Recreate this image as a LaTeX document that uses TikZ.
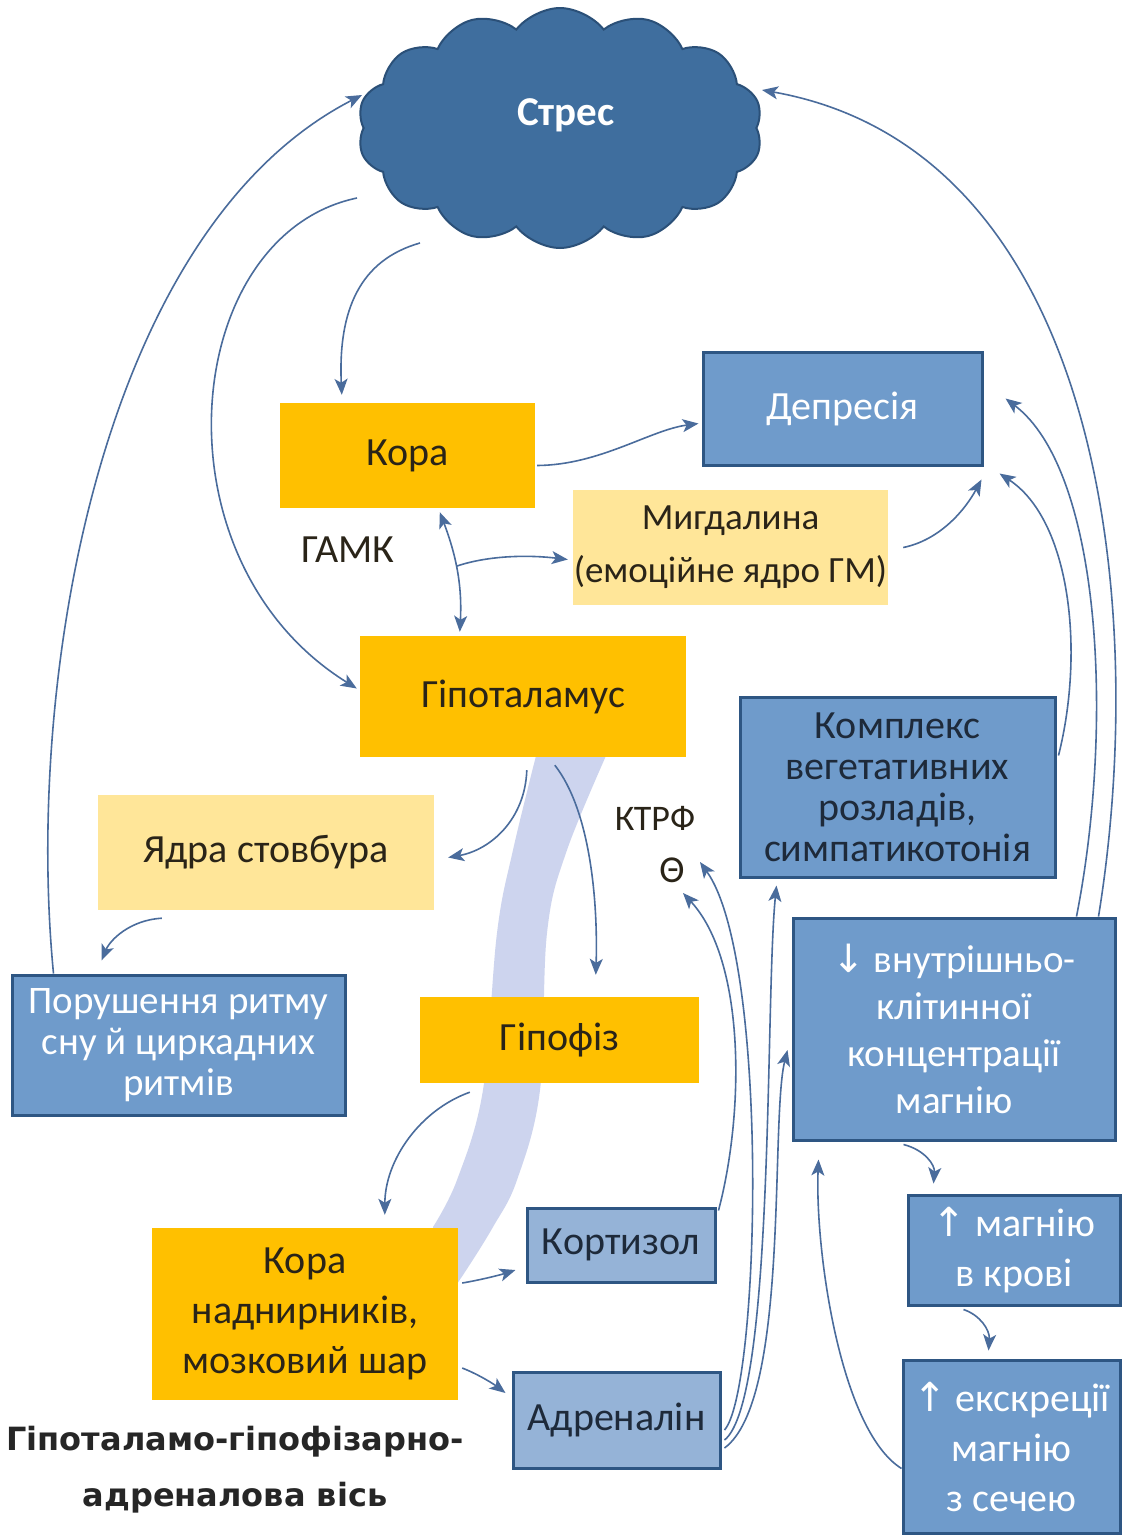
\documentclass[tikz,border=0pt]{standalone}
\usepackage{fontspec}
\setmainfont{Carlito}
\newfontfamily\titlefont{DejaVu Sans}
\newfontfamily\symfont{DejaVu Sans}
\usetikzlibrary{arrows.meta,shapes.symbols,calc}

\definecolor{orangefill}{HTML}{FFC000}
\definecolor{palefill}{HTML}{FFE699}
\definecolor{bluefill}{HTML}{6F9BCB}
\definecolor{lightbluefill}{HTML}{95B3D7}
\definecolor{boxborder}{HTML}{2E5683}
\definecolor{cloudfill}{HTML}{3F6E9E}
\definecolor{cloudborder}{HTML}{2B5078}
\definecolor{linkcol}{HTML}{4A6C9C}
\definecolor{bandcol}{HTML}{CDD4EE}
\definecolor{darktext}{HTML}{1E2A3A}
\definecolor{inktext}{HTML}{2A2418}

\tikzset{
  box/.style={rectangle, inner sep=0pt, align=center, font=\fontsize{40}{46}\selectfont},
  orangebox/.style={box, fill=orangefill, text=inktext},
  palebox/.style={box, fill=palefill, text=inktext},
  bluebox/.style={box, fill=bluefill, draw=boxborder, line width=3pt, text=white},
  darkbluebox/.style={box, fill=bluefill, draw=boxborder, line width=3pt, text=darktext},
  lightbox/.style={box, fill=lightbluefill, draw=boxborder, line width=3pt, text=darktext},
  tip/.tip={Stealth[length=16pt,width=13pt,inset=4pt]},
  link/.style={draw=linkcol, line width=1.6pt, -tip},
  biglabel/.style={font=\fontsize{40}{46}\selectfont, text=inktext, inner sep=0pt},
}

\begin{document}
\begin{tikzpicture}[x=1pt,y=-1pt]
\useasboundingbox[fill=white] (0,0) rectangle (1126,1535);

% axis band behind the hormonal cascade
\fill[bandcol] plot[smooth, tension=0.6] coordinates {(613,740) (567,850) (547,933) (540,1090) (517,1180) (493,1227) (463,1275) (445,1300)}
  -- plot[smooth, tension=0.6] coordinates {(433,1227) (457,1180) (483,1090) (497,933) (513,850) (540,740)} -- cycle;

% stress cloud
\node[cloud, cloud puffs=14, cloud puff arc=105, aspect=1.7, fill=cloudfill, draw=cloudborder,
      line width=2pt, minimum width=405pt, minimum height=240pt, inner sep=0pt] (stress) at (560,128) {};
\node[font=\fontsize{41}{46}\selectfont\bfseries, text=white] (stresstext) at (566,115) {Стрес};

% boxes
\node[orangebox, minimum width=255pt, minimum height=105pt] (kora) at (407.5,455.5) {Кора};
\node[bluebox, minimum width=279pt, minimum height=113pt] (depr) at (842.5,408.5) {Депресія};
\node[palebox, minimum width=315pt, minimum height=115pt, font=\fontsize{37}{53}\selectfont] (mygd) at (730.5,547.5) {Мигдалина\\(емоційне ядро ГМ)};
\node[orangebox, minimum width=326pt, minimum height=121pt] (hypo) at (523,696.5) {Гіпоталамус};
\node[darkbluebox, minimum width=315pt, minimum height=180pt, font=\fontsize{40}{41}\selectfont] (kompl) at (897.5,787) {Комплекс\\вегетативних\\розладів,\\симпатикотонія};
\node[palebox, minimum width=336pt, minimum height=115pt] (yadra) at (266,852.5) {Ядра стовбура};
\node[bluebox, minimum width=333pt, minimum height=140pt, font=\fontsize{39}{41}\selectfont] (porush) at (178.5,1045) {Порушення ритму\\сну й циркадних\\ритмів};
\node[orangebox, minimum width=279pt, minimum height=86pt] (gipof) at (559.5,1040) {Гіпофіз};
\node[bluebox, minimum width=322pt, minimum height=222pt, font=\fontsize{39}{47}\selectfont] (mgdown) at (954,1029) {{\symfont ↓} внутрішньо-\\клітинної\\концентрації\\магнію};
\node[orangebox, minimum width=306pt, minimum height=172pt, font=\fontsize{40}{50}\selectfont] (nadn) at (305,1314) {Кора\\наднирників,\\мозковий шар};
\node[lightbox, minimum width=188pt, minimum height=74pt] (kort) at (621,1245) {Кортизол};
\node[lightbox, minimum width=207pt, minimum height=96pt] (adren) at (616.5,1420) {Адреналін};
\node[bluebox, minimum width=212pt, minimum height=110pt, font=\fontsize{40}{50}\selectfont] (mgblood) at (1014,1250) {{\symfont ↑} магнію\\в крові};
\node[bluebox, minimum width=217pt, minimum height=173pt, font=\fontsize{40}{50}\selectfont] (excr) at (1011.5,1446.5) {{\symfont ↑} екскреції\\магнію\\з сечею};

% free labels
\node[biglabel] (gamk) at (348,550) {ГАМК};
\node[biglabel, font=\fontsize{36}{42}\selectfont] (ktrf) at (655,818) {КТРФ};
\node[biglabel, font=\fontsize{38}{42}\selectfont] (minus) at (672,870) {Θ};
\node[font=\titlefont\bfseries\fontsize{32}{56}\selectfont, text=black!85, align=center, inner sep=0pt] (axis) at (235,1470) {Гіпоталамо-гіпофізарно-\\адреналова вісь};

% connectors from the stress cloud
\draw[link] ($(stress.center)+(-140,115)$) .. controls (360,260) and (338,310) .. ($(kora.north west)+(62,-8)$);
\draw[link] ($(stress.center)+(-203,70)$) .. controls (180,235) and (150,560) .. ($(hypo.west)+(-3,-8)$);

% feedback to the stress cloud
\draw[link] ($(porush.north west)+(43,0)$) .. controls (25,680) and (100,230) .. ($(stress.center)+(-198,-33)$);
\draw[link] ($(mgdown.north east)+(-18,0)$) .. controls (1150,600) and (1100,150) .. ($(stress.center)+(202,-38)$);

% into depression
\draw[link] ($(kora.east)+(2,10)$) .. controls (600,465) and (650,430) .. ($(depr.west)+(-3,15)$);
\draw[link] ($(mygd.east)+(15,0)$) .. controls (940,540) and (965,510) .. ($(depr.south east)+(-2,13)$);
\draw[link] ($(kompl.north east)+(2,60)$) .. controls (1085,650) and (1070,520) .. ($(depr.south east)+(16,7)$);
\draw[link] ($(mgdown.north east)+(-40,0)$) .. controls (1115,720) and (1100,470) .. ($(depr.east)+(22,-10)$);

% GABA link between cortex and hypothalamus, branch to the amygdala
\draw[link, tip-tip] ($(kora.south west)+(160,4)$) .. controls (458,560) and (462,590) .. ($(hypo.north west)+(100,-4)$);
\coordinate (gabr) at (457,566);
\draw[link] (gabr) .. controls (490,555) and (530,555) .. ($(mygd.west)+(-5,12)$);

% hypothalamic outputs
\draw[link] ($(hypo.south west)+(167,13)$) .. controls (525,820) and (490,850) .. ($(yadra.east)+(14,5)$);
\draw[link] ($(hypo.south west)+(195,8)$) .. controls (590,810) and (598,900) .. ($(gipof.north west)+(176,-22)$);
\draw[link] ($(yadra.south west)+(64,8)$) .. controls (130,920) and (110,940) .. ($(porush.north west)+(91,-13)$);
\draw[link] ($(gipof.south west)+(50,9)$) .. controls (420,1110) and (385,1160) .. ($(nadn.north west)+(233,-13)$);

% adrenal outputs
\draw[link] ($(nadn.east)+(4,-31)$) .. controls (480,1280) and (500,1275) .. ($(kort.west)+(-10,25)$);
\draw[link] ($(nadn.east)+(4,54)$) .. controls (480,1375) and (495,1385) .. ($(adren.west)+(-6,-27)$);

% hormone feedback and effects
\draw[link] ($(kort.north east)+(2,4)$) .. controls (745,1110) and (745,960) .. ($(minus.center)+(11,23)$);
\draw[link] ($(adren.east)+(3,10)$) .. controls (760,1390) and (770,960) .. ($(minus.center)+(28,-8)$);
\draw[link] ($(adren.east)+(3,20)$) .. controls (775,1400) and (765,1000) .. ($(kompl.south west)+(38,7)$);
\draw[link] ($(adren.east)+(3,28)$) .. controls (790,1400) and (770,1120) .. ($(mgdown.west)+(-4,21)$);

% magnesium loop
\draw[link] ($(excr.west)+(0,22)$) .. controls (840,1430) and (815,1250) .. ($(mgdown.south west)+(27,18)$);
\draw[link] ($(mgdown.south west)+(112,3)$) .. controls (925,1150) and (935,1165) .. ($(mgblood.north west)+(27,-10)$);
\draw[link] ($(mgblood.south west)+(57,3)$) .. controls (980,1315) and (990,1330) .. ($(excr.north west)+(87,-8)$);
\end{tikzpicture}
\end{document}
